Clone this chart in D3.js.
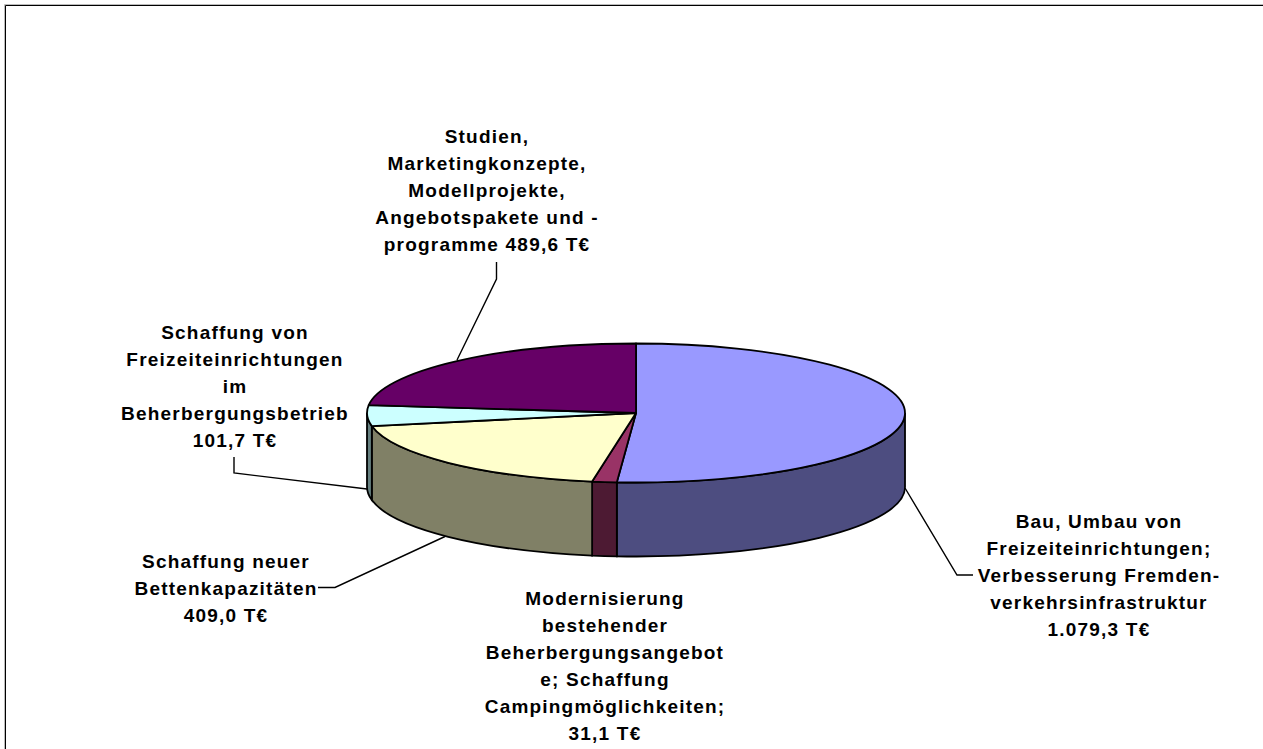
<!DOCTYPE html>
<html>
<head>
<meta charset="utf-8">
<script src="https://cdn.jsdelivr.net/npm/d3@7"></script>
<style>
  html, body { margin: 0; background: #fff; }
  svg { display: block; }
  text { font-family: "Liberation Sans", Arial, sans-serif; font-weight: bold; font-size: 19px; letter-spacing: 1.2px; fill: #000; text-anchor: middle; }
</style>
</head>
<body>
<div id="chart"></div>
<script>
const categories = [
  ["Bau, Umbau von", "Freizeiteinrichtungen;", "Verbesserung Fremden-", "verkehrsinfrastruktur", "{v}"],
  ["Modernisierung", "bestehender", "Beherbergungsangebot", "e; Schaffung", "Campingmöglichkeiten;", "{v}"],
  ["Schaffung neuer", "Bettenkapazitäten", "{v}"],
  ["Schaffung von", "Freizeiteinrichtungen", "im", "Beherbergungsbetrieb", "{v}"],
  ["Studien,", "Marketingkonzepte,", "Modellprojekte,", "Angebotspakete und -", "programme {v}"]
]
const values = [1079.3, 31.1, 409.0, 101.7, 489.6]
const colors = ["#9999ff", "#993366", "#ffffcc", "#ccffff", "#660066"]

// where each label sits: centre x, first baseline
const labelPos = [[1099, 528], [605, 605], [226, 567.5], [235, 338.5], [487, 143]]
const leaders = [
  [[905, 488], [957, 575], [973, 575]],
  null,
  [[445, 536.5], [335, 587.5], [318, 587.5]],
  [[367, 489], [234, 473], [234, 457]],
  [[457, 360], [496.5, 279], [496.5, 262]]
]

const width = 1263, height = 749
const cx = 636, cy = 413, rx = 269, ry = 69.5, depth = 74
const lineHeight = 27
const squash = ry / rx

const deFormat = d3.formatLocale({decimal: ",", thousands: ".", grouping: [3], currency: ["", "€"]}).format(",.1f")

const svg = d3.select("#chart").append("svg")
    .attr("width", width)
    .attr("height", height)

// frame, only top and left are in the picture
svg.append("path").attr("d", `M4.5,${height}V4.5H${width}`).attr("fill", "none").attr("stroke", "#bbb")
svg.append("path").attr("d", `M5.5,${height}V5.5H${width}`).attr("fill", "none").attr("stroke", "#000")

const pie = d3.pie().sort(null).value(d => d)
const slices = pie(values)
const arc = d3.arc().innerRadius(0).outerRadius(rx)

const pieGroup = svg.append("g")
    .attr("transform", `translate(${cx},${cy}) scale(1,${squash})`)

function wallPath(d) {
  // only the front half of the rim shows
  const a0 = Math.max(d.startAngle, Math.PI / 2) - Math.PI / 2
  const a1 = Math.min(d.endAngle, Math.PI * 1.5) - Math.PI / 2
  if (a1 <= a0) return null
  const h = depth / squash
  const p = d3.path()
  p.moveTo(rx * Math.cos(a0), rx * Math.sin(a0))
  p.arc(0, 0, rx, a0, a1)
  p.lineTo(rx * Math.cos(a1), rx * Math.sin(a1) + h)
  p.arc(0, h, rx, a1, a0, true)
  p.closePath()
  return p.toString()
}

pieGroup.selectAll(".wall")
  .data(slices)
  .join("path")
    .attr("class", "wall")
    .attr("d", wallPath)
    .attr("fill", (d, i) => d3.interpolateRgb(colors[i], "#000")(0.5))
    .attr("stroke", "#000")
    .attr("stroke-width", 1.8)
    .attr("vector-effect", "non-scaling-stroke")

pieGroup.selectAll(".top")
  .data(slices)
  .join("path")
    .attr("class", "top")
    .attr("d", arc)
    .attr("fill", (d, i) => colors[i])
    .attr("stroke", "#000")
    .attr("stroke-width", 1.8)
    .attr("stroke-linejoin", "round")
    .attr("vector-effect", "non-scaling-stroke")

const leaderLine = d3.line()
svg.selectAll(".leader")
  .data(leaders.filter(d => d))
  .join("path")
    .attr("class", "leader")
    .attr("d", leaderLine)
    .attr("fill", "none")
    .attr("stroke", "#000")
    .attr("stroke-width", 1.4)

categories.forEach((lines, i) => {
  const label = svg.append("text")
  lines.forEach((line, j) => {
    label.append("tspan")
      .attr("x", labelPos[i][0])
      .attr("y", labelPos[i][1] + j * lineHeight)
      .text(line.replace("{v}", deFormat(values[i]) + " T€"))
  })
})
</script>
</body>
</html>
